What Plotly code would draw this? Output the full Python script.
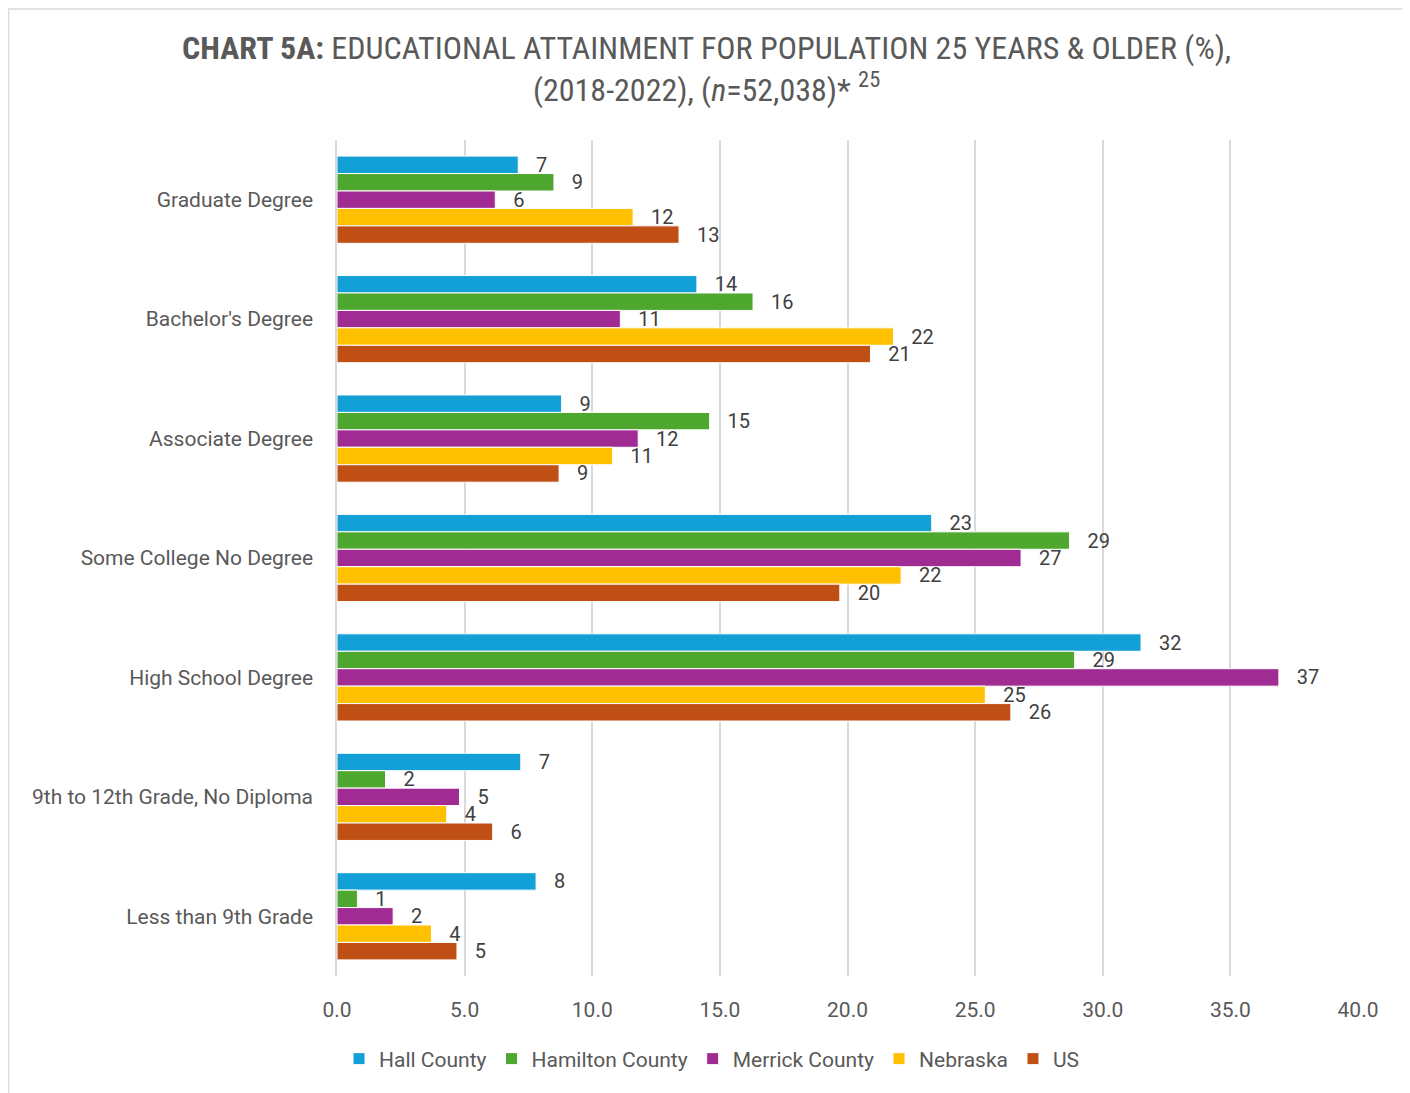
import plotly.graph_objects as go

# Education categories, top to bottom
categories = [
    "Graduate Degree",
    "Bachelor's Degree",
    "Associate Degree",
    "Some College No Degree",
    "High School Degree",
    "9th to 12th Grade, No Diploma",
    "Less than 9th Grade",
]

# Percent values
hall_county = [7.1, 14.1, 8.8, 23.3, 31.5, 7.2, 7.8]
hamilton_county = [8.5, 16.3, 14.6, 28.7, 28.9, 1.9, 0.8]
merrick_county = [6.2, 11.1, 11.8, 26.8, 36.9, 4.8, 2.2]
nebraska = [11.6, 21.8, 10.8, 22.1, 25.4, 4.3, 3.7]
us = [13.4, 20.9, 8.7, 19.7, 26.4, 6.1, 4.7]

series = [
    ("Hall County", hall_county, "#12A0D7"),
    ("Hamilton County", hamilton_county, "#4EA72E"),
    ("Merrick County", merrick_county, "#A02B93"),
    ("Nebraska", nebraska, "#FFC000"),
    ("US", us, "#C04F15"),
]

label_font = "Roboto, 'Open Sans', sans-serif"
text_color = "#404040"
axis_color = "#595959"

# page has an 8px body margin, so the figure is drawn 8px smaller
W, H = 1402, 1085
ML, MR, MT, MB = 329, 52, 132, 117
plot_w = W - ML - MR
plot_h = H - MT - MB

fig = go.Figure()
for name, values, color in series:
    fig.add_trace(go.Bar(
        y=categories,
        x=values,
        name=name,
        orientation="h",
        marker=dict(color=color, line=dict(color="white", width=1)),
        texttemplate="   %{x:.0f}",
        textposition="outside",
        constraintext="none",
        textfont=dict(size=20, color=text_color, family=label_font),
        cliponaxis=False,
    ))

title_text = (
    "<b>CHART 5A:</b> EDUCATIONAL ATTAINMENT FOR POPULATION 25 YEARS &amp; OLDER (%),"
    "<br>(2018-2022), (<i>n</i>=52,038)* <sup>25</sup>"
)

fig.add_annotation(
    text=title_text,
    xref="paper", yref="paper",
    x=(698 - ML) / plot_w, y=(H - MB - 61) / plot_h,
    xanchor="center", yanchor="middle",
    showarrow=False,
    align="center",
    font=dict(family="'Liberation Sans Narrow', 'Roboto Condensed', Roboto, sans-serif",
              size=32, color=axis_color),
)

fig.update_layout(
    width=W,
    height=H,
    paper_bgcolor="white",
    plot_bgcolor="white",
    barmode="group",
    bargap=0.27,
    bargroupgap=0,
    margin=dict(l=ML, r=MR, t=MT, b=MB),
    font=dict(family=label_font, color=axis_color),
    legend=dict(
        orientation="h",
        x=(704 - ML) / plot_w,
        xanchor="center",
        y=(H - MB - 1051) / plot_h,
        yanchor="middle",
        font=dict(size=21, color=axis_color),
    ),
    showlegend=True,
)

fig.update_xaxes(
    range=[0, 40],
    dtick=5,
    tickformat=".1f",
    showgrid=True,
    gridcolor="#D9D9D9",
    gridwidth=1.5,
    zeroline=False,
    showline=False,
    tickfont=dict(size=21, color=axis_color),
    ticklabelstandoff=19,
)

fig.update_yaxes(
    autorange="reversed",
    showgrid=False,
    showline=True,
    linecolor="#D9D9D9",
    linewidth=1.5,
    tickfont=dict(size=21, color=axis_color),
    ticklabelstandoff=18,
)

# light outer frame of the chart area
fig.add_shape(
    type="rect",
    xref="paper", yref="paper",
    x0=(0.5 - ML) / plot_w, x1=(1400 - ML) / plot_w,
    y0=(H - MB - 1100) / plot_h, y1=(H - MB - 1) / plot_h,
    line=dict(color="#D9D9D9", width=1.5),
    fillcolor="rgba(0,0,0,0)",
    layer="below",
)

fig.write_html("out.html")
